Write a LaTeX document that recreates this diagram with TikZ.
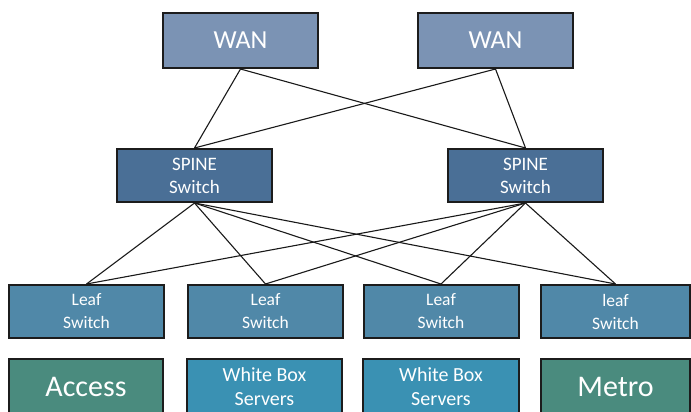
\documentclass[tikz,border=0pt]{standalone}
\usepackage{fontspec}
\setmainfont{Carlito}
\usepackage{tikz}

\definecolor{wanblue}{HTML}{7B93B4}
\definecolor{spineblue}{HTML}{4A6F96}
\definecolor{leafblue}{HTML}{5088A8}
\definecolor{edgegreen}{HTML}{4A8B7E}
\definecolor{boxcyan}{HTML}{3A91B3}
\definecolor{frame}{HTML}{1C1C1C}

\begin{document}
\begin{tikzpicture}[x=1pt, y=-1pt]
    \tikzstyle{unit} = [rectangle, draw=frame, line width=2pt, text=white, inner sep=0pt, align=center, minimum width=155pt]
    \tikzstyle{wan} = [unit, fill=wanblue, minimum height=55pt, font=\fontsize{26}{30}\selectfont]
    \tikzstyle{spine} = [unit, fill=spineblue, minimum height=53pt, font=\fontsize{19}{23}\selectfont]
    \tikzstyle{leaf} = [unit, fill=leafblue, minimum height=53pt, font=\fontsize{17.5}{23}\selectfont]
    \tikzstyle{site} = [unit, fill=edgegreen, minimum height=55pt, font=\fontsize{30}{34}\selectfont]
    \tikzstyle{servers} = [unit, fill=boxcyan, minimum height=55pt, font=\fontsize{20}{24}\selectfont]
    \tikzstyle{link} = [draw=black!90, line width=1.1pt]

    \useasboundingbox (0,0) rectangle (691,412);
    \clip (0,0) rectangle (691,412);

    % WAN
    \node[wan] (W1) at (240.5, 40.5) {WAN};
    \node[wan] (W2) at (495.5, 40.5) {WAN};

    % Spine
    \node[spine] (S1) at (194.5, 175.5) {SPINE\\Switch};
    \node[spine] (S2) at (525.5, 175.5) {SPINE\\Switch};

    % Leaves
    \node[leaf] (L1) at (86.5, 311.5) {Leaf\\Switch};
    \node[leaf] (L2) at (265.5, 311.5) {Leaf\\Switch};
    \node[leaf] (L3) at (441, 311.5) {Leaf\\Switch};
    \node[leaf, minimum width=149pt] (L4) at (615.5, 311.5) {leaf\\Switch};

    % Attached
    \node[site, minimum width=154pt] (A) at (86, 386.5) {Access};
    \node[servers] (B1) at (264.5, 386.5) {White Box\\Servers};
    \node[servers, minimum width=156pt] (B2) at (441, 386.5) {White Box\\Servers};
    \node[site, minimum width=149pt] (M) at (615.5, 386.5) {Metro};

    % Links
    \foreach \w in {W1,W2} \foreach \s in {S1,S2} {
        \draw[link] (\w.south) -- (\s.north);
    }
    \foreach \s in {S1,S2} \foreach \l in {L1,L2,L3,L4} {
        \draw[link] (\s.south) -- (\l.north);
    }
\end{tikzpicture}
\end{document}
